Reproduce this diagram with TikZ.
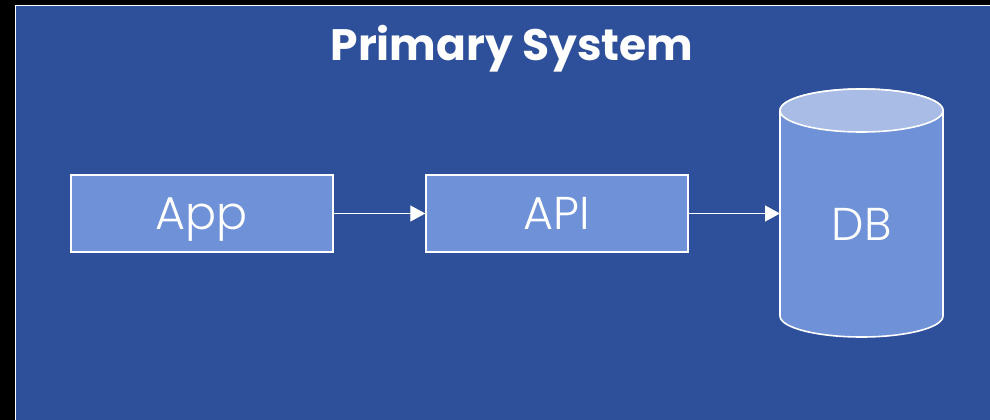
\documentclass[tikz,border=0pt]{standalone}
\usepackage{fontspec}
\usetikzlibrary{arrows.meta}
\newfontfamily\titlefont{Poppins}[UprightFont=* Bold]
\newfontfamily\labelfont{Poppins}[UprightFont=* Light]
\definecolor{panelblue}{HTML}{2E4F9A}
\definecolor{boxblue}{HTML}{6F91D7}
\definecolor{lidblue}{HTML}{A9BCE6}
\begin{document}
\begin{tikzpicture}[x=1pt,y=-1pt,
  compbox/.style={draw=white,line width=1.4pt,fill=boxblue,minimum width=262pt,minimum height=77pt,inner sep=0pt,text height=32pt,text depth=0pt,text=white,font=\labelfont\fontsize{46}{46}\selectfont},
  flow/.style={draw=white,line width=1.3pt,-{Triangle[length=15pt,width=16pt]}}]
  \useasboundingbox (0,0) rectangle (990,420);
  \fill[black] (0,0) rectangle (990,420);
  % panel
  \draw[white,line width=1.6pt,fill=panelblue] (15.5,5.5) rectangle (1010,440);
  \node[anchor=base,text=white,inner sep=0pt,font=\titlefont\fontsize{44}{44}\selectfont] (title) at (512,60) {Primary System};
  % components
  \node[compbox] (app) at (202,213.5) {App};
  \node[compbox] (api) at (557,213.5) {API};
  % database cylinder
  \draw[white,line width=1.6pt,fill=boxblue]
    (780,110.5) -- (780,316) arc[start angle=180,end angle=0,x radius=81.5,y radius=21] -- (943,110.5)
    arc[start angle=0,end angle=-180,x radius=81.5,y radius=21.5] -- cycle;
  \draw[white,line width=1.6pt,fill=lidblue] (861.5,110.5) ellipse[x radius=81.5,y radius=21.5];
  \coordinate (dbin) at (780,213.5);
  \node[anchor=base,inner sep=0pt,text=white,font=\labelfont\fontsize{46}{46}\selectfont] (db) at (861.5,240) {DB};
  % connectors
  \draw[flow] (app.east) -- (api.west);
  \draw[flow] (api.east) -- (dbin);
\end{tikzpicture}
\end{document}
